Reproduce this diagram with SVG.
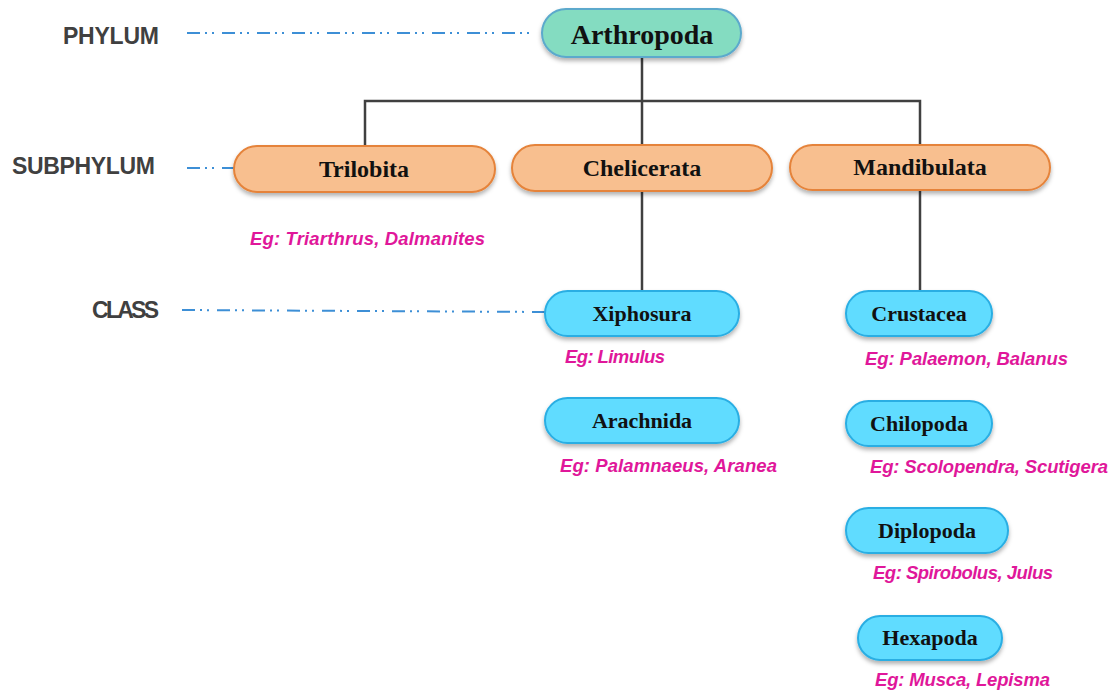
<svg xmlns="http://www.w3.org/2000/svg" width="1113" height="691" viewBox="0 0 1113 691">
<style>
.lvl{font-family:"Liberation Sans",Arial,sans-serif;font-weight:bold;font-size:23px;fill:#404040;dominant-baseline:central}
.guide{stroke:#3d8fd6;stroke-width:2;fill:none;stroke-dasharray:13 5 2 5 2 8}
.conn{stroke:#404040;stroke-width:2.5;fill:none}
.t{font-family:"Liberation Serif","Times New Roman",serif;font-weight:bold;fill:#111;text-anchor:middle;dominant-baseline:central}
.phy{fill:#84dcc1;stroke:#5ba9cc;stroke-width:2}
.sub{fill:#f8bf8f;stroke:#e5833a;stroke-width:2}
.cls{fill:#60dcff;stroke:#2aaee3;stroke-width:2}
.eg{font-family:"Liberation Sans",Arial,sans-serif;font-weight:bold;font-style:italic;font-size:18.5px;fill:#e0179a;dominant-baseline:central}
</style>
<defs>
<filter id="sh" x="-10%" y="-20%" width="120%" height="160%">
<feDropShadow dx="0" dy="3" stdDeviation="2" flood-color="#000" flood-opacity="0.3"/>
</filter>
</defs>
<rect width="1113" height="691" fill="#ffffff"/>

<g id="levels">
<text class="lvl" x="63" y="36" textLength="96">PHYLUM</text>
<text class="lvl" x="12" y="166" textLength="143">SUBPHYLUM</text>
<text class="lvl" x="92" y="310" textLength="67">CLASS</text>
<line class="guide" x1="187" y1="33" x2="535" y2="33"/>
<line class="guide" x1="187" y1="168" x2="234" y2="168"/>
<line class="guide" x1="182" y1="310" x2="545" y2="312"/>
</g>

<g id="connectors">
<path class="conn" d="M642 57 V101 M365 146 V101 H920 V145 M642 101 V145"/>
<path class="conn" d="M642 191 V291"/>
<path class="conn" d="M920 190 V291"/>
</g>

<g id="arthropoda">
<rect class="phy" x="542" y="9" width="199" height="48" rx="24" filter="url(#sh)"/>
<text class="t" x="642" y="34" font-size="28">Arthropoda</text>
</g>

<g id="trilobita">
<rect class="sub" x="234" y="146" width="261" height="46" rx="23" filter="url(#sh)"/>
<text class="t" x="364" y="169" font-size="24">Trilobita</text>
</g>
<g id="chelicerata">
<rect class="sub" x="512" y="145" width="260" height="46" rx="23" filter="url(#sh)"/>
<text class="t" x="642" y="168" font-size="24">Chelicerata</text>
</g>
<g id="mandibulata">
<rect class="sub" x="790" y="145" width="260" height="45" rx="22.5" filter="url(#sh)"/>
<text class="t" x="920" y="167" font-size="24">Mandibulata</text>
</g>

<g id="xiphosura">
<rect class="cls" x="545" y="291" width="194" height="45" rx="22.5" filter="url(#sh)"/>
<text class="t" x="642" y="313" font-size="22">Xiphosura</text>
</g>
<g id="arachnida">
<rect class="cls" x="545" y="398" width="194" height="45" rx="22.5" filter="url(#sh)"/>
<text class="t" x="642" y="420" font-size="22">Arachnida</text>
</g>
<g id="crustacea">
<rect class="cls" x="846" y="291" width="146" height="45" rx="22.5" filter="url(#sh)"/>
<text class="t" x="919" y="313" font-size="22">Crustacea</text>
</g>
<g id="chilopoda">
<rect class="cls" x="846" y="401" width="146" height="45" rx="22.5" filter="url(#sh)"/>
<text class="t" x="919" y="423" font-size="22">Chilopoda</text>
</g>
<g id="diplopoda">
<rect class="cls" x="846" y="508" width="162" height="45" rx="22.5" filter="url(#sh)"/>
<text class="t" x="927" y="530" font-size="22">Diplopoda</text>
</g>
<g id="hexapoda">
<rect class="cls" x="858" y="616" width="144" height="44" rx="22" filter="url(#sh)"/>
<text class="t" x="930" y="637" font-size="22">Hexapoda</text>
</g>

<g id="examples">
<text class="eg" x="250" y="238" textLength="235">Eg: Triarthrus, Dalmanites</text>
<text class="eg" x="565" y="356" textLength="100">Eg: Limulus</text>
<text class="eg" x="560" y="465" textLength="217">Eg: Palamnaeus, Aranea</text>
<text class="eg" x="865" y="358" textLength="203">Eg: Palaemon, Balanus</text>
<text class="eg" x="870" y="466" textLength="238">Eg: Scolopendra, Scutigera</text>
<text class="eg" x="873" y="572" textLength="180">Eg: Spirobolus, Julus</text>
<text class="eg" x="875" y="679" textLength="175">Eg: Musca, Lepisma</text>
</g>
</svg>
